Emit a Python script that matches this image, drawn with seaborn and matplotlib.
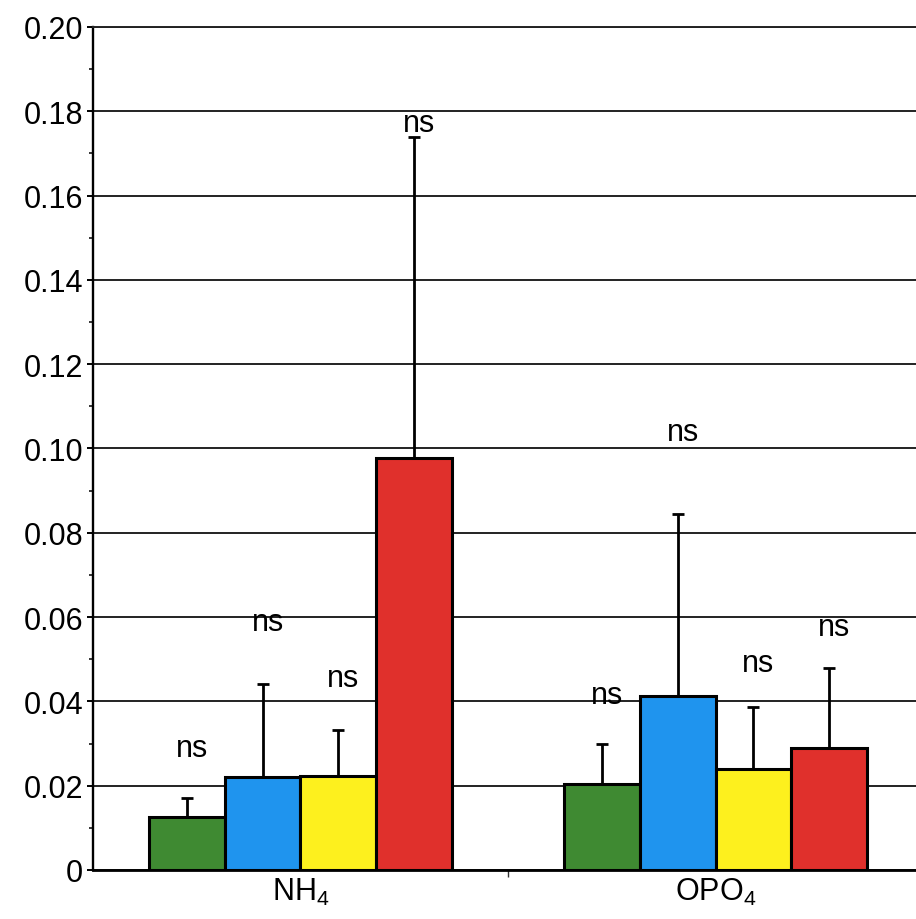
import matplotlib
matplotlib.use("Agg")
import matplotlib.pyplot as plt
import seaborn as sns
import pandas as pd
import numpy as np
from matplotlib.ticker import FixedLocator, FuncFormatter

# ---- data ----
categories = ["NH4", "OPO4"]
category_labels = [r"NH$_\mathregular{4}$", r"OPO$_\mathregular{4}$"]
series = ["Series 1", "Series 2", "Series 3", "Series 4"]
means_nh4 = [0.0126, 0.0221, 0.0223, 0.0978]
means_opo4 = [0.0204, 0.0413, 0.0240, 0.0289]
err_nh4 = [0.0044, 0.0220, 0.0110, 0.0761]
err_opo4 = [0.0096, 0.0432, 0.0147, 0.0191]
ns_nh4 = [0.0271, 0.0570, 0.0437, 0.1754]
ns_opo4 = [0.0397, 0.1021, 0.0472, 0.0558]
sig_text = "ns"
colors = ["#3f8a32", "#1f94ee", "#fdf01e", "#e0302c"]

rows = []
for c, ms, es, ns in [(categories[0], means_nh4, err_nh4, ns_nh4),
                      (categories[1], means_opo4, err_opo4, ns_opo4)]:
    for s, m, e, n in zip(series, ms, es, ns):
        rows.append({"category": c, "series": s, "value": m, "err": e, "ns": n})
df = pd.DataFrame(rows)

sns.set_theme(style="white")
plt.rcParams["font.family"] = ["Liberation Sans", "DejaVu Sans"]
plt.rcParams["mathtext.fontset"] = "custom"
plt.rcParams["mathtext.rm"] = "Liberation Sans"
plt.rcParams["text.color"] = "black"
plt.rcParams["xtick.color"] = "black"
plt.rcParams["ytick.color"] = "black"
plt.rcParams["xtick.labelcolor"] = "black"
plt.rcParams["ytick.labelcolor"] = "black"

fig = plt.figure(figsize=(9.16, 9.20), dpi=100)
ax = fig.add_axes([0.1015, 0.0533, 0.8985, 0.9163])

sns.barplot(data=df, x="category", y="value", hue="series", order=categories,
            hue_order=series, palette=colors, width=0.73, errorbar=None,
            edgecolor="black", linewidth=2.2, saturation=1, legend=False,
            ax=ax, zorder=3)

# error bars (upper only) and significance labels
bars = [p for p in ax.patches if p.get_width() > 0]
bars = sorted(bars, key=lambda p: p.get_x())
order_map = {**{c: i for i, c in enumerate(categories)}, **{s_: i for i, s_ in enumerate(series)}}
ordered = df.sort_values(["category", "series"], key=lambda s: s.map(order_map))
for p, (_, r) in zip(bars, ordered.iterrows()):
    xc = p.get_x() + p.get_width() / 2
    top = p.get_height()
    ax.errorbar(xc, top, yerr=[[0], [r["err"]]], fmt="none", ecolor="black",
                elinewidth=2.0, capsize=4, capthick=2.0, zorder=2)
    ax.text(xc + 0.012, r["ns"], sig_text, ha="center", va="baseline",
            fontsize=22, color="black", zorder=4)

ax.set_xlim(-0.5, 1.483)
ax.set_ylim(0, 0.20)
ax.set_xlabel("")
ax.set_ylabel("")

yt = np.round(np.arange(0, 0.201, 0.02), 2)
ax.yaxis.set_major_locator(FixedLocator(yt))
ax.yaxis.set_minor_locator(FixedLocator(np.round(np.arange(0.01, 0.2, 0.02), 2)))
ax.yaxis.set_major_formatter(FuncFormatter(lambda v, p: "0" if abs(v) < 1e-9 else f"{v:.2f}"))
ax.tick_params(axis="y", which="major", direction="out", length=4, width=1.4,
               color="black", labelsize=22, labelcolor="black", pad=3, left=True)
ax.tick_params(axis="y", which="minor", direction="out", length=3, width=1.1,
               color="black", left=True)

ax.set_xticks([0, 1])
ax.set_xticklabels(category_labels)
ax.xaxis.set_minor_locator(FixedLocator([0.5]))
ax.tick_params(axis="x", which="major", length=0, labelsize=22, labelcolor="black", pad=4)
ax.tick_params(axis="x", which="minor", direction="out", length=5, width=1.0,
               color="#333333", bottom=True)

ax.yaxis.grid(True, which="major", color="#222222", linewidth=1.4, zorder=0)
ax.set_axisbelow(True)

ax.spines["right"].set_visible(False)
ax.spines["top"].set_color("#222222")
ax.spines["top"].set_linewidth(1.4)
ax.spines["left"].set_color("black")
ax.spines["left"].set_linewidth(1.7)
ax.spines["bottom"].set_color("black")
ax.spines["bottom"].set_linewidth(2.0)

fig.savefig("out.png", dpi=100, facecolor="white")
